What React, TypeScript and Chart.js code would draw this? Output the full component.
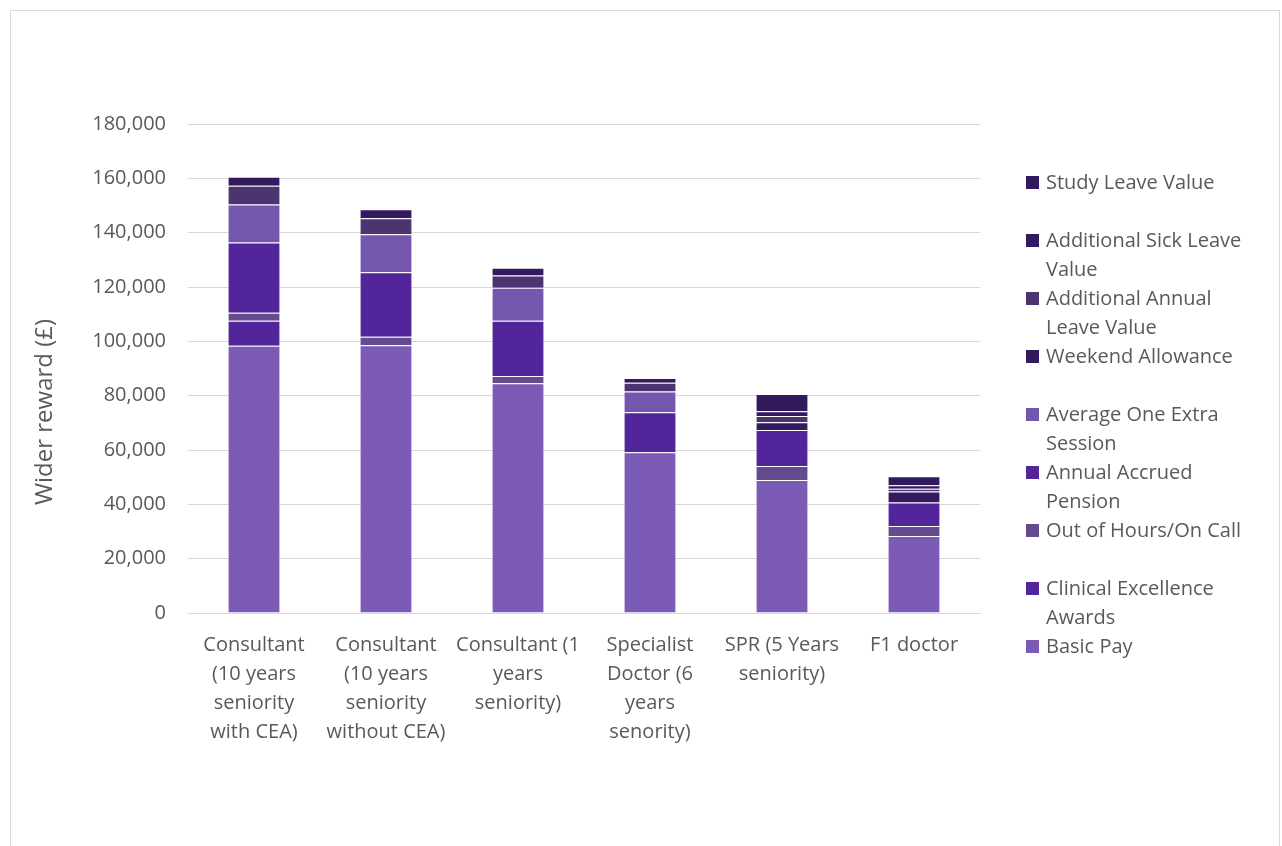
import React, { useEffect, useRef } from "react";
import { Chart, registerables } from "chart.js";

Chart.register(...registerables);

const categories: string[][] = [
  ["Consultant", "(10 years", "seniority", "with CEA)"],
  ["Consultant", "(10 years", "seniority", "without CEA)"],
  ["Consultant (1", "years", "seniority)"],
  ["Specialist", "Doctor (6", "years", "senority)"],
  ["SPR (5 Years", "seniority)"],
  ["F1 doctor"],
];

const basicPay = [98400, 98600, 84550, 59200, 49000, 28300];
const clinicalExcellence = [9200, 0, 0, 0, 0, 0];
const outOfHours = [2900, 3100, 2650, 0, 5150, 3700];
const accruedPension = [25900, 23700, 20400, 14700, 13250, 8700];
const extraSession = [14000, 14000, 12100, 7600, 0, 0];
const weekendAllowance = [0, 0, 0, 0, 2800, 4000];
const annualLeave = [6900, 5900, 4500, 3300, 2300, 1000];
const sickLeave = [0, 0, 0, 0, 1800, 1300];
const studyLeave = [3300, 3300, 2900, 1700, 6300, 3300];

const yTicks = [0, 20000, 40000, 60000, 80000, 100000, 120000, 140000, 160000, 180000];
const yTitle = "Wider reward (£)";

// bottom-to-top stacking order
const series = [
  { label: "Basic Pay", legend: ["Basic Pay"], data: basicPay, color: "#7B5BB5" },
  { label: "Clinical Excellence Awards", legend: ["Clinical Excellence", "Awards"], data: clinicalExcellence, color: "#52259A" },
  { label: "Out of Hours/On Call", legend: ["Out of Hours/On Call"], data: outOfHours, color: "#644A8F" },
  { label: "Annual Accrued Pension", legend: ["Annual Accrued", "Pension"], data: accruedPension, color: "#52259A" },
  { label: "Average One Extra Session", legend: ["Average One Extra", "Session"], data: extraSession, color: "#7556AE" },
  { label: "Weekend Allowance", legend: ["Weekend Allowance"], data: weekendAllowance, color: "#331A5E" },
  { label: "Additional Annual Leave Value", legend: ["Additional Annual", "Leave Value"], data: annualLeave, color: "#4B3470" },
  { label: "Additional Sick Leave Value", legend: ["Additional Sick Leave", "Value"], data: sickLeave, color: "#331A5E" },
  { label: "Study Leave Value", legend: ["Study Leave Value"], data: studyLeave, color: "#331A5E" },
];

const FONT = "'Open Sans', 'DejaVu Sans', sans-serif";
const TEXT = "#595959";

// Vertical axis title, placed a little below the plot's middle
const yTitlePlugin = {
  id: "yTitle",
  afterDraw(chart: any) {
    const { ctx } = chart;
    ctx.save();
    ctx.translate(45, 412);
    ctx.rotate(-Math.PI / 2);
    ctx.font = `24px ${FONT}`;
    ctx.fillStyle = TEXT;
    ctx.textAlign = "center";
    ctx.textBaseline = "middle";
    ctx.fillText(yTitle, 0, 0);
    ctx.restore();
  },
};

export default function App() {
  const canvasRef = useRef<HTMLCanvasElement | null>(null);

  useEffect(() => {
    document.body.style.margin = "0";
    const ctx = canvasRef.current;
    if (!ctx) return;
    const chart = new Chart(ctx, {
      type: "bar",
      data: {
        labels: categories,
        datasets: series.map((s) => ({
          label: s.label,
          data: s.data,
          backgroundColor: s.color,
          borderColor: "rgba(255,255,255,0.25)",
          borderWidth: 1,
          barPercentage: 0.4,
          categoryPercentage: 1,
        })),
      },
      plugins: [yTitlePlugin],
      options: {
        animation: false,
        responsive: false,
        maintainAspectRatio: false,
        layout: { padding: { left: 30, right: 302, top: 124, bottom: 0 } },
        plugins: { legend: { display: false }, tooltip: { enabled: false } },
        scales: {
          x: {
            stacked: true,
            grid: { display: false, drawTicks: false },
            border: { display: true, color: "#d9d9d9", width: 1 },
            ticks: {
              color: TEXT,
              font: { family: FONT, size: 20, lineHeight: 1.45 },
              padding: 18,
              maxRotation: 0,
              autoSkip: false,
            },
            afterFit: (scale: any) => {
              scale.height = 233;
            },
          },
          y: {
            stacked: true,
            min: 0,
            max: 180000,
            grid: { color: "#d9d9d9", drawTicks: false },
            border: { display: false },
            afterBuildTicks: (scale: any) => {
              scale.ticks = yTicks.map((v) => ({ value: v }));
            },
            ticks: {
              color: TEXT,
              font: { family: FONT, size: 20 },
              padding: 22,
              callback: (v: any) => Number(v).toLocaleString("en-US"),
            },
            afterFit: (scale: any) => {
              scale.width = 158;
            },
          },
        },
      },
    });
    return () => chart.destroy();
  }, []);

  const legendItems = [...series].reverse();

  return (
    <div style={{ position: "relative", width: 1282, height: 846, overflow: "hidden", background: "#fff" }}>
      <div
        style={{
          position: "absolute",
          left: 10,
          top: 10,
          width: 1270,
          height: 860,
          border: "1px solid #d9d9d9",
          boxSizing: "border-box",
        }}
      />
      <canvas ref={canvasRef} width={1282} height={846} style={{ position: "absolute", left: 0, top: 0 }} />
      <div style={{ position: "absolute", left: 1026, top: 167, fontFamily: FONT, fontSize: 20, color: TEXT }}>
        {legendItems.map((s) => (
          <div key={s.label} style={{ position: "relative", height: 58, lineHeight: "29px" }}>
            <span
              style={{
                position: "absolute",
                left: 0,
                top: 9,
                width: 13,
                height: 13,
                background: s.color,
              }}
            />
            <div style={{ marginLeft: 20, whiteSpace: "nowrap" }}>
              {s.legend.map((line) => (
                <div key={line}>{line}</div>
              ))}
            </div>
          </div>
        ))}
      </div>
    </div>
  );
}
